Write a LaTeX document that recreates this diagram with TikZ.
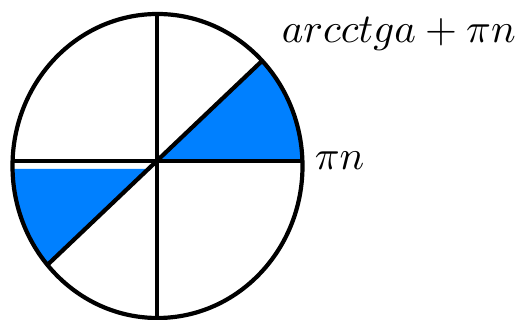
\documentclass[tikz,border=0pt]{standalone}
\usepackage{tikz}
\usetikzlibrary{calc}
\definecolor{sectorblue}{RGB}{0,128,255}
\begin{document}
\begin{tikzpicture}[x=1pt, y=1pt, every node/.style={scale=4.1, inner sep=0pt},
  rim/.style={line width=4.2pt}, sector/.style={fill=sectorblue}]
\useasboundingbox (0,0) rectangle (522,320);
\coordinate (c) at (157.5,154); \coordinate (o) at (157,159);
\coordinate (n) at (157,306); \coordinate (s) at (157,2);
\coordinate (e1) at ($(c)+(1.9:145 and 152)$); \coordinate (e2) at ($(c)+(178.1:145 and 152)$);
\coordinate (d1) at ($(c)+(43.8:145 and 152)$); \coordinate (d2) at ($(c)+(220.6:145 and 152)$);
\coordinate (p) at (148.8,151);
\fill[sector] (o) -- (e1) arc[start angle=1.9, end angle=43.8, x radius=145, y radius=152] -- cycle;
\fill[sector] (p) -- ($(c)+(181.1:145 and 152)$) arc[start angle=181.1, end angle=220.6, x radius=145, y radius=152] -- cycle;
\draw[rim] (e2) -- (e1);
\draw[rim] (n) -- (s);
\draw[rim] (d2) -- (d1);
\draw[rim] (c) ellipse[x radius=145, y radius=152];
\node[anchor=west] (pin) at (314,159) {$\pi n$};
\node[anchor=base west] (parc) at (281,277) {$arcctga+\pi n$};
\end{tikzpicture}
\end{document}
